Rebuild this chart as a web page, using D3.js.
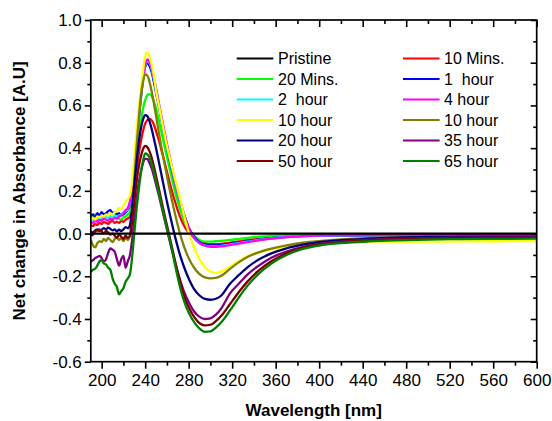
<!DOCTYPE html>
<html>
<head>
<meta charset="utf-8">
<script src="https://cdn.jsdelivr.net/npm/d3@7"></script>
<style>
  body { margin: 0; background: #fff; }
  svg { display: block; }
  text { font-family: Arial, "Liberation Sans", sans-serif; fill: #000; }
</style>
</head>
<body>
<svg id="chart" width="552" height="421"></svg>
<script>
// Wavelength grid (nm) shared by all spectra
const wavelengths = [
  190, 192, 194, 196, 198, 200, 202, 204, 206, 208, 210, 212, 214, 216, 218, 220, 222, 224,
  226, 228, 230, 232, 234, 236, 238, 240, 242, 244, 246, 248, 250,
  253, 256, 260, 264, 268, 272, 276, 280, 285, 290, 295, 300, 305, 310,
  318, 326, 334, 344, 356, 370, 385, 400, 420, 445, 470, 500, 530, 560, 600
];

// Pristine reference: flat baseline
const pristineWavelengths = [190, 600];
const pristine = [0.0, 0.0];

const min10 = [
  0.04, 0.035, 0.045, 0.04, 0.05, 0.045, 0.055, 0.05, 0.045, 0.055, 0.06, 0.05, 0.055, 0.05, 0.06, 0.055, 0.065, 0.07,
  0.08, 0.13, 0.2, 0.29, 0.37, 0.43, 0.48, 0.515, 0.532, 0.537, 0.53, 0.51, 0.48,
  0.43, 0.37, 0.29, 0.21, 0.14, 0.08, 0.035, 0.005, -0.02, -0.036, -0.045, -0.05, -0.05, -0.048,
  -0.043, -0.037, -0.031, -0.025, -0.019, -0.014, -0.011, -0.009, -0.008, -0.008, -0.008, -0.008, -0.008, -0.008, -0.008
];
const min20 = [
  0.085, 0.075, 0.09, 0.08, 0.07, 0.08, 0.075, 0.085, 0.09, 0.08, 0.075, 0.085, 0.08, 0.07, 0.065, 0.075, 0.08, 0.09,
  0.1, 0.15, 0.24, 0.34, 0.44, 0.52, 0.585, 0.625, 0.648, 0.653, 0.643, 0.62, 0.585,
  0.52, 0.45, 0.36, 0.27, 0.185, 0.115, 0.06, 0.02, -0.01, -0.03, -0.038, -0.038, -0.036, -0.034,
  -0.03, -0.025, -0.02, -0.015, -0.011, -0.008, -0.006, -0.005, -0.005, -0.004, -0.004, -0.004, -0.004, -0.004, -0.004
];
const hour1 = [
  0.08, 0.09, 0.075, 0.095, 0.085, 0.1, 0.09, 0.095, 0.105, 0.11, 0.095, 0.1, 0.09, 0.095, 0.085, 0.09, 0.1, 0.11,
  0.14, 0.21, 0.31, 0.42, 0.53, 0.63, 0.72, 0.78, 0.797, 0.785, 0.755, 0.71, 0.66,
  0.585, 0.505, 0.405, 0.31, 0.225, 0.15, 0.085, 0.03, -0.015, -0.04, -0.051, -0.055, -0.055, -0.053,
  -0.048, -0.042, -0.036, -0.029, -0.022, -0.016, -0.012, -0.01, -0.009, -0.008, -0.008, -0.008, -0.008, -0.008, -0.008
];
const hour2 = [
  0.065, 0.06, 0.07, 0.065, 0.075, 0.07, 0.075, 0.08, 0.07, 0.08, 0.075, 0.085, 0.08, 0.085, 0.09, 0.1, 0.105, 0.115,
  0.145, 0.205, 0.305, 0.425, 0.535, 0.635, 0.725, 0.785, 0.81, 0.8, 0.77, 0.725, 0.675,
  0.595, 0.515, 0.415, 0.32, 0.23, 0.15, 0.08, 0.022, -0.022, -0.046, -0.056, -0.06, -0.06, -0.058,
  -0.052, -0.045, -0.038, -0.03, -0.023, -0.016, -0.012, -0.009, -0.008, -0.007, -0.007, -0.007, -0.007, -0.007, -0.007
];
const hour4 = [
  0.055, 0.05, 0.06, 0.055, 0.065, 0.06, 0.07, 0.065, 0.06, 0.07, 0.065, 0.075, 0.07, 0.08, 0.085, 0.095, 0.11, 0.12,
  0.15, 0.21, 0.31, 0.43, 0.54, 0.64, 0.73, 0.79, 0.815, 0.805, 0.775, 0.73, 0.68,
  0.6, 0.52, 0.42, 0.325, 0.235, 0.155, 0.085, 0.025, -0.02, -0.045, -0.057, -0.062, -0.062, -0.06,
  -0.054, -0.047, -0.04, -0.032, -0.024, -0.017, -0.012, -0.009, -0.007, -0.006, -0.006, -0.006, -0.005, -0.005, -0.005
];
const hour10a = [
  0.07, 0.075, 0.065, 0.08, 0.075, 0.085, 0.08, 0.09, 0.085, 0.095, 0.09, 0.1, 0.105, 0.12, 0.115, 0.13, 0.15, 0.16,
  0.18, 0.24, 0.35, 0.47, 0.58, 0.67, 0.76, 0.83, 0.85, 0.83, 0.79, 0.74, 0.67,
  0.59, 0.51, 0.41, 0.325, 0.245, 0.165, 0.08, 0.005, -0.065, -0.12, -0.158, -0.178, -0.184, -0.178,
  -0.155, -0.128, -0.107, -0.089, -0.074, -0.061, -0.051, -0.044, -0.04, -0.038, -0.038, -0.038, -0.037, -0.036, -0.035
];
const hour10b = [
  -0.03, -0.055, -0.065, -0.045, -0.035, -0.04, -0.025, -0.035, -0.02, -0.03, -0.04, -0.025, -0.02, -0.03, -0.02, -0.035, -0.02, -0.03,
  -0.01, 0.1, 0.25, 0.4, 0.53, 0.64, 0.71, 0.745, 0.74, 0.71, 0.665, 0.61, 0.55,
  0.46, 0.375, 0.27, 0.17, 0.08, 0.0, -0.065, -0.115, -0.16, -0.19, -0.205, -0.21, -0.208, -0.198,
  -0.165, -0.135, -0.11, -0.088, -0.07, -0.055, -0.043, -0.035, -0.027, -0.021, -0.018, -0.016, -0.015, -0.015, -0.015
];
const hour20 = [
  0.01, 0.005, 0.015, 0.02, 0.012, 0.018, 0.025, 0.02, 0.028, 0.022, 0.015, 0.02, 0.01, 0.018, 0.012, 0.02, 0.03, 0.025,
  0.04, 0.12, 0.23, 0.33, 0.42, 0.49, 0.535, 0.555, 0.55, 0.525, 0.49, 0.445, 0.4,
  0.325, 0.25, 0.15, 0.06, -0.025, -0.1, -0.16, -0.21, -0.26, -0.29, -0.306, -0.31, -0.305, -0.29,
  -0.235, -0.195, -0.158, -0.123, -0.093, -0.069, -0.052, -0.04, -0.031, -0.024, -0.019, -0.016, -0.015, -0.014, -0.014
];
const hour35 = [
  -0.13, -0.125, -0.115, -0.11, -0.105, -0.115, -0.13, -0.12, -0.09, -0.07, -0.075, -0.085, -0.12, -0.15, -0.12, -0.105, -0.16, -0.13,
  -0.1, -0.03, 0.07, 0.16, 0.235, 0.29, 0.33, 0.35, 0.35, 0.33, 0.305, 0.27, 0.23,
  0.17, 0.105, 0.02, -0.065, -0.145, -0.215, -0.275, -0.32, -0.365, -0.39, -0.4, -0.397, -0.38, -0.35,
  -0.28, -0.235, -0.192, -0.152, -0.113, -0.084, -0.062, -0.048, -0.038, -0.03, -0.025, -0.021, -0.019, -0.018, -0.018
];
const hour50 = [
  -0.01, -0.005, 0.01, 0.015, 0.02, 0.01, 0.0, 0.012, 0.005, -0.005, 0.0, -0.01, -0.02, -0.005, -0.015, -0.025, -0.01, -0.02,
  -0.01, 0.06, 0.15, 0.24, 0.31, 0.36, 0.395, 0.41, 0.405, 0.385, 0.355, 0.315, 0.27,
  0.2, 0.13, 0.04, -0.05, -0.14, -0.225, -0.295, -0.345, -0.39, -0.42, -0.43, -0.427, -0.41, -0.385,
  -0.33, -0.275, -0.225, -0.175, -0.13, -0.093, -0.067, -0.052, -0.041, -0.033, -0.028, -0.024, -0.022, -0.021, -0.02
];
const hour65 = [
  -0.18, -0.17, -0.165, -0.15, -0.13, -0.125, -0.14, -0.145, -0.16, -0.17, -0.21, -0.235, -0.25, -0.285, -0.27, -0.255, -0.225, -0.21,
  -0.19, -0.11, 0.0, 0.11, 0.2, 0.28, 0.34, 0.375, 0.37, 0.355, 0.325, 0.29, 0.245,
  0.18, 0.115, 0.025, -0.06, -0.16, -0.25, -0.32, -0.37, -0.415, -0.445, -0.46, -0.458, -0.44, -0.415,
  -0.36, -0.3, -0.245, -0.19, -0.14, -0.1, -0.072, -0.056, -0.045, -0.037, -0.032, -0.028, -0.026, -0.025, -0.024
];

const seriesLabels = ["Pristine", "10 Mins.", "20 Mins.", "1  hour", "2  hour", "4 hour",
                      "10 hour", "10 hour", "20 hour", "35 hour", "50 hour", "65 hour"];
const seriesColors = ["#000000", "#ff0000", "#00ff00", "#0000ff", "#00ffff", "#ff00ff",
                      "#ffff00", "#808000", "#000080", "#800080", "#800000", "#008000"];
const seriesValues = [pristine, min10, min20, hour1, hour2, hour4, hour10a, hour10b, hour20, hour35, hour50, hour65];

const xTicks = [200, 240, 280, 320, 360, 400, 440, 480, 520, 560, 600];
const xMinorTicks = [220, 260, 300, 340, 380, 420, 460, 500, 540, 580];
const yTicks = [-0.6, -0.4, -0.2, 0.0, 0.2, 0.4, 0.6, 0.8, 1.0];
const yMinorTicks = [-0.5, -0.3, -0.1, 0.1, 0.3, 0.5, 0.7, 0.9];

const svg = d3.select("#chart");
const plot = { left: 90.8, right: 536.7, top: 20, bottom: 361.7 };

const x = d3.scaleLinear().domain([190, 600]).range([plot.left, plot.right]);
const y = d3.scaleLinear().domain([-0.6, 1.0]).range([plot.bottom, plot.top]);

svg.append("defs").append("clipPath").attr("id", "plot-clip")
  .append("rect")
  .attr("x", plot.left).attr("y", plot.top)
  .attr("width", plot.right - plot.left).attr("height", plot.bottom - plot.top);

// Spectra
const line = d3.line()
  .x(d => x(d[0]))
  .y(d => y(d[1]))
  .curve(d3.curveMonotoneX);

const series = seriesValues.map((vals, i) => ({
  label: seriesLabels[i],
  color: seriesColors[i],
  points: (i === 0 ? pristineWavelengths : wavelengths).map((w, k) => [w, vals[k]])
}));

const lineGroup = svg.append("g").attr("clip-path", "url(#plot-clip)");
// coloured spectra first, baseline drawn over them
series.slice(1).concat(series.slice(0, 1)).forEach(s => {
  lineGroup.append("path")
    .attr("d", line(s.points))
    .attr("fill", "none")
    .attr("stroke", s.color)
    .attr("stroke-width", 2.3)
    .attr("stroke-linejoin", "round");
});

// Axes
const fmtY = d => d.toFixed(1);
const axisStyle = g => {
  g.select(".domain").remove();
  g.selectAll(".tick line").attr("stroke", "#000").attr("stroke-width", 1.6);
  g.selectAll(".tick text").style("font-size", "17px").attr("fill", "#000");
};

svg.append("g").attr("transform", `translate(0,${plot.bottom})`)
  .call(d3.axisBottom(x).tickValues(xTicks).tickSize(7).tickPadding(5))
  .call(axisStyle);
svg.append("g").attr("transform", `translate(0,${plot.bottom})`)
  .call(d3.axisBottom(x).tickValues(xMinorTicks).tickSize(4).tickFormat(""))
  .call(axisStyle);
svg.append("g").attr("transform", `translate(0,${plot.top})`)
  .call(d3.axisTop(x).tickValues(xTicks).tickSize(-7).tickFormat(""))
  .call(axisStyle);
svg.append("g").attr("transform", `translate(0,${plot.top})`)
  .call(d3.axisTop(x).tickValues(xMinorTicks).tickSize(-4).tickFormat(""))
  .call(axisStyle);

svg.append("g").attr("transform", `translate(${plot.left},0)`)
  .call(d3.axisLeft(y).tickValues(yTicks).tickSize(6).tickPadding(3).tickFormat(fmtY))
  .call(axisStyle);
svg.append("g").attr("transform", `translate(${plot.left},0)`)
  .call(d3.axisLeft(y).tickValues(yMinorTicks).tickSize(3.5).tickFormat(""))
  .call(axisStyle);
svg.append("g").attr("transform", `translate(${plot.right},0)`)
  .call(d3.axisRight(y).tickValues(yTicks).tickSize(-6).tickFormat(""))
  .call(axisStyle);
svg.append("g").attr("transform", `translate(${plot.right},0)`)
  .call(d3.axisRight(y).tickValues(yMinorTicks).tickSize(-3.5).tickFormat(""))
  .call(axisStyle);

// Frame
svg.append("rect")
  .attr("x", plot.left).attr("y", plot.top)
  .attr("width", plot.right - plot.left).attr("height", plot.bottom - plot.top)
  .attr("fill", "none").attr("stroke", "#000").attr("stroke-width", 1.7);

// Axis titles
svg.append("text")
  .attr("x", (plot.left + plot.right) / 2).attr("y", 416)
  .attr("text-anchor", "middle")
  .style("font-size", "17px").style("font-weight", "bold")
  .text("Wavelength [nm]");

svg.append("text")
  .attr("transform", `translate(25,${(plot.top + plot.bottom) / 2}) rotate(-90)`)
  .attr("text-anchor", "middle")
  .style("font-size", "17px").style("font-weight", "bold")
  .text("Net change in Absorbance [A.U]");

// Legend: two columns, filled row by row
const legendCols = [{ lx: 236.7, tx: 278 }, { lx: 403, tx: 444 }];
const legend = svg.append("g");
series.forEach((s, i) => {
  const col = legendCols[i % 2];
  const ly = 58.5 + Math.floor(i / 2) * 20.5;
  legend.append("line")
    .attr("x1", col.lx).attr("x2", col.lx + 36.6)
    .attr("y1", ly).attr("y2", ly)
    .attr("stroke", s.color).attr("stroke-width", 2.2);
  legend.append("text")
    .attr("x", col.tx).attr("y", ly + 5.6)
    .style("font-size", "16px").style("white-space", "pre")
    .text(s.label);
});
</script>
</body>
</html>
